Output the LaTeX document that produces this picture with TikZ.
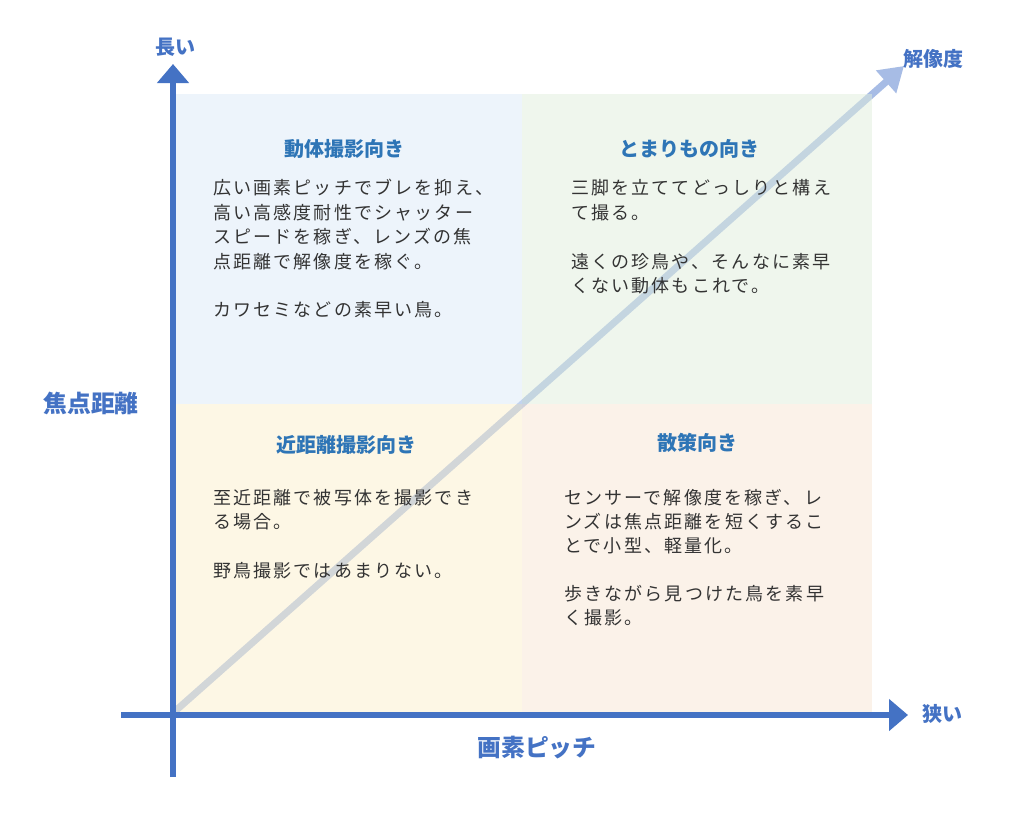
\documentclass[tikz,border=0pt]{standalone}
\usepackage{fontspec}
\setmainfont{Noto Sans CJK JP}
\newfontfamily\bodyfont[LetterSpace=12]{Noto Sans CJK JP}
\usetikzlibrary{arrows.meta}
\definecolor{axisblue}{HTML}{4472C4}
\definecolor{titleblue}{HTML}{2E75B6}
\definecolor{bodytext}{HTML}{333333}
\definecolor{diagblue}{HTML}{A7BCE5}
\definecolor{qTL}{HTML}{DDEBF9}
\definecolor{qTR}{HTML}{E1EFDD}
\definecolor{qBL}{HTML}{FDF1CD}
\definecolor{qBR}{HTML}{F9E7D5}
\tikzset{
  body/.style={anchor=west,inner sep=0pt,text=bodytext,font=\bodyfont\fontsize{18pt}{24pt}\selectfont},
  qtitle/.style={inner sep=0pt,text=titleblue,font=\bfseries\fontsize{20pt}{24pt}\selectfont},
  axsmall/.style={inner sep=0pt,text=axisblue,font=\bfseries\fontsize{20pt}{24pt}\selectfont},
  axbig/.style={inner sep=0pt,text=axisblue,font=\bfseries\fontsize{23.8pt}{28pt}\selectfont},
  quad/.style={draw=none,fill opacity=0.5},
  axisline/.style={draw=axisblue,line width=6pt,-{Triangle[length=19pt,width=31pt]}},
  diagline/.style={draw=diagblue,line width=7pt,-{Triangle[length=24pt,width=29pt]}}
}
\begin{document}
\begin{tikzpicture}[x=1pt,y=-1pt]
\useasboundingbox (0,0) rectangle (1024,816);
\fill[white] (0,0) rectangle (1024,816);
% diagonal
\coordinate (dS) at (173,713);
\coordinate (dT) at (904,66);
\draw[diagline] (dS) -- (dT);
% quadrants
\fill[qTL,quad] (176,94) rectangle (522,404);
\fill[qTR,quad] (522,94) rectangle (872,404);
\fill[qBL,quad] (176,404) rectangle (522,712);
\fill[qBR,quad] (522,404) rectangle (872,712);
% axes
\coordinate (yB) at (173,777);
\coordinate (yT) at (173,64);
\coordinate (xL) at (121,715);
\coordinate (xR) at (908,715);
\draw[axisline] (yB) -- (yT);
\draw[axisline] (xL) -- (xR);
% axis labels
\node[axsmall] (lNaga) at (175,47) {長い};
\node[axsmall] (lKai) at (933,59) {解像度};
\node[axbig] (lShoten) at (91,403) {焦点距離};
\node[axbig] (lGaso) at (537,748) {画素ピッチ};
\node[axsmall] (lSemai) at (942,714) {狭い};
% TL
\node[qtitle] (tTL) at (344,149) {動体撮影向き};
\node[body] (b11) at (213,188) {広い画素ピッチでブレを抑え、};
\node[body] (b12) at (213,213) {高い高感度耐性でシャッター};
\node[body] (b13) at (213,237) {スピードを稼ぎ、レンズの焦};
\node[body] (b14) at (213,262) {点距離で解像度を稼ぐ。};
\node[body] (b15) at (213,310) {カワセミなどの素早い鳥。};
% TR
\node[qtitle] (tTR) at (689,149) {とまりもの向き};
\node[body] (b21) at (571,188) {三脚を立ててどっしりと構え};
\node[body] (b22) at (571,213) {て撮る。};
\node[body] (b23) at (571,262) {遠くの珍鳥や、そんなに素早};
\node[body] (b24) at (571,286) {くない動体もこれで。};
% BL
\node[qtitle] (tBL) at (346,445) {近距離撮影向き};
\node[body] (b31) at (213,498) {至近距離で被写体を撮影でき};
\node[body] (b32) at (213,522) {る場合。};
\node[body] (b33) at (213,571) {野鳥撮影ではあまりない。};
% BR
\node[qtitle] (tBR) at (697,443) {散策向き};
\node[body] (b41) at (564,498) {センサーで解像度を稼ぎ、レ};
\node[body] (b42) at (564,522) {ンズは焦点距離を短くするこ};
\node[body] (b43) at (564,546) {とで小型、軽量化。};
\node[body] (b44) at (564,594) {歩きながら見つけた鳥を素早};
\node[body] (b45) at (564,618) {く撮影。};
\end{tikzpicture}
\end{document}
